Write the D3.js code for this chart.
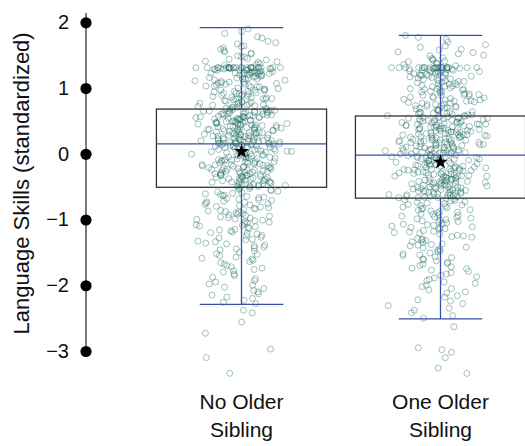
<!DOCTYPE html>
<html>
<head>
<meta charset="utf-8">
<script src="https://cdn.jsdelivr.net/npm/d3@7"></script>
<style>
  body { margin: 0; background: #fff; }
  text { font-family: "Liberation Sans", Arial, sans-serif; fill: #111; }
</style>
</head>
<body>
<div id="chart"></div>
<script>
// categories and their labels (two lines each)
const groups = ["none", "one"];
const groupLabels = [["No Older", "Sibling"], ["One Older", "Sibling"]];
const yTicks = [2, 1, 0, -1, -2, -3];

// box statistics: [lower whisker, Q1, median, Q3, upper whisker]
const boxNone = [-2.29, -0.51, 0.15, 0.68, 1.92];
const boxOne = [-2.51, -0.675, -0.02, 0.575, 1.80];
const meanNone = 0.035;
const meanOne = -0.127;

// individual scores (estimated from the scatter)
const scoresNone = [1.90,1.83,1.76,1.71,1.67,1.64,1.61,1.57,1.55,1.52,1.49,1.47,1.45,1.43,1.41,1.39,1.37,1.35,
  1.31,1.31,1.31,1.31,1.31,1.31,1.31,1.31,1.31,1.31,1.30,1.30,1.29,1.28,1.28,1.27,1.26,1.25,1.24,1.23,1.23,1.22,1.21,1.20,1.20,
  1.18,1.17,1.15,1.14,1.12,1.11,1.09,1.08,1.06,1.05,1.03,1.02,1.00,0.98,0.97,0.95,0.94,0.92,0.91,0.89,0.87,0.86,0.84,0.83,0.81,0.79,0.78,0.76,0.74,0.73,0.71,0.69,
  0.67,0.66,0.65,0.65,0.64,0.63,0.62,0.61,0.60,0.60,0.59,0.58,0.57,0.56,0.55,0.55,0.54,0.53,0.52,0.51,0.50,0.49,0.49,0.48,0.47,
  0.46,0.45,0.44,0.43,0.43,0.42,0.41,0.40,0.39,0.38,0.38,0.37,0.36,0.35,0.34,0.33,0.33,0.32,0.31,0.30,0.29,0.28,0.28,0.27,0.26,
  0.25,0.24,0.23,0.23,0.22,0.21,0.20,0.20,0.19,0.18,0.18,0.17,0.17,0.16,0.16,0.15,0.15,0.15,0.14,0.14,0.13,0.12,0.12,0.11,0.10,
  0.09,0.08,0.07,0.06,0.05,0.04,0.03,0.02,0.01,0.00,-0.01,-0.02,-0.03,-0.04,-0.05,-0.06,-0.07,-0.08,-0.09,-0.10,-0.11,-0.12,-0.13,-0.14,-0.15,
  -0.16,-0.17,-0.18,-0.19,-0.20,-0.21,-0.22,-0.23,-0.24,-0.25,-0.26,-0.27,-0.28,-0.29,-0.30,-0.31,-0.32,-0.33,-0.34,-0.35,-0.36,-0.37,-0.38,-0.39,-0.40,
  -0.41,-0.42,-0.43,-0.44,-0.45,-0.46,-0.47,-0.48,-0.49,-0.50,
  -0.52,-0.54,-0.55,-0.57,-0.58,-0.60,-0.61,-0.63,-0.64,-0.66,-0.67,-0.69,-0.70,-0.72,-0.73,-0.75,-0.77,-0.78,-0.80,-0.82,-0.84,-0.85,-0.87,-0.89,-0.91,-0.93,-0.95,-0.97,-0.99,
  -1.01,-1.03,-1.05,-1.08,-1.10,-1.12,-1.15,-1.17,-1.20,-1.22,-1.25,-1.28,-1.31,-1.34,-1.37,-1.40,-1.43,-1.46,-1.50,-1.53,-1.57,-1.60,-1.64,-1.68,-1.72,-1.76,-1.80,-1.85,-1.90,-1.95,
  -2.00,-2.05,-2.10,-2.15,-2.20,-2.26,-2.38,-2.42,-2.56,-2.73,-2.97,-3.10,-3.34,
  1.86,1.78,1.69,1.63,1.59,1.53,1.48,1.44,1.40,1.36,
  1.31,1.31,1.31,1.31,1.31,1.31,1.31,1.31,1.31,1.31,1.31,1.31,1.31,1.31,1.30,1.30,1.29,1.29,1.28,1.27,1.27,1.26,1.25,1.24,1.24,1.23,1.22,1.21,1.21,1.20,
  1.19,1.18,1.16,1.15,1.14,1.13,1.12,1.10,1.09,1.08,1.07,1.06,1.04,1.03,1.02,1.01,0.99,0.98,0.97,0.96,0.95,0.93,0.92,0.91,0.90,0.89,0.88,0.86,0.85,0.84,0.83,0.82,0.80,0.79,0.78,0.77,0.76,0.75,0.74,0.73,0.72,0.71,0.70,0.69,0.68,
  0.67,0.66,0.66,0.65,0.64,0.63,0.63,0.62,0.61,0.60,0.59,0.59,0.58,0.57,0.56,0.56,0.55,0.54,0.53,0.52,0.52,0.51,0.50,0.49,0.48,0.48,0.47,0.46,0.45,0.44,0.44,0.43,0.42,0.41,0.40,0.40,0.39,0.38,0.37,0.36,0.36,0.35,0.34,0.33,0.32,0.32,0.31,0.30,0.29,0.28,0.28,0.27,0.26,0.25,0.24,0.24,0.23,0.22,0.21,0.20,0.20,0.19,0.18,0.17,0.16,0.16,
  0.145,0.135,0.125,0.115,0.105,0.095,0.085,0.075,0.065,0.055,0.045,0.035,0.025,0.015,0.005,-0.005,-0.015,-0.025,-0.035,-0.045,-0.055,-0.065,-0.075,-0.085,-0.095,-0.105,-0.115,-0.125,-0.135,-0.145,-0.155,-0.165,-0.175,-0.185,-0.195,-0.205,-0.215,-0.225,-0.235,-0.245,-0.255,-0.265,-0.275,-0.285,-0.295,-0.305,-0.315,-0.325,-0.335,-0.345,-0.355,-0.365,-0.375,-0.385,-0.395,-0.405,-0.415,-0.425,-0.435,-0.445,-0.455,-0.465,-0.475,-0.485,-0.495,-0.505,
  -0.53,-0.56,-0.59,-0.62,-0.65,-0.68,-0.71,-0.74,-0.76,-0.79,-0.81,-0.83,-0.86,-0.88,-0.90,-0.92,-0.94,-0.96,-0.98,-1.00,-1.02,-1.04,-1.06,-1.09,-1.11,-1.14,-1.16,-1.19,-1.21,-1.24,-1.27,-1.30,-1.33,-1.36,-1.39,-1.42,-1.45,-1.48,-1.52,-1.55,-1.59,-1.62,-1.66,-1.70,-1.74,-1.78,-1.83,-1.88,-1.93,-1.98,-2.03,-2.08,-2.13,-2.18,-2.23,-2.28];

const scoresOne = [1.80,1.74,1.66,1.62,1.58,1.55,1.52,1.49,1.46,1.44,1.42,1.40,1.38,1.36,1.34,
  1.31,1.31,1.31,1.31,1.31,1.31,1.31,1.31,1.31,1.30,1.29,1.28,1.27,1.26,1.25,1.24,1.23,1.22,1.21,1.20,1.19,1.18,
  1.16,1.14,1.12,1.10,1.09,1.07,1.05,1.03,1.01,0.99,0.98,0.96,0.94,0.92,0.90,0.89,0.87,0.85,0.83,0.82,0.80,0.78,0.77,0.75,0.73,0.72,0.70,0.69,0.67,0.66,0.64,0.63,0.62,0.61,0.60,0.59,0.58,0.58,
  0.57,0.56,0.55,0.54,0.54,0.53,0.52,0.51,0.50,0.49,0.49,0.48,0.47,0.46,0.45,0.45,0.44,0.43,0.42,0.41,0.41,0.40,0.39,0.38,0.37,
  0.37,0.36,0.35,0.34,0.33,0.33,0.32,0.31,0.30,0.29,0.29,0.28,0.27,0.26,0.25,0.25,0.24,0.23,0.22,0.21,0.21,0.20,0.19,0.18,0.17,
  0.17,0.16,0.15,0.14,0.13,0.13,0.12,0.11,0.10,0.09,0.09,0.08,0.07,0.06,0.05,0.05,0.04,0.03,0.02,0.01,0.01,0.00,-0.01,-0.02,-0.02,
  -0.03,-0.04,-0.05,-0.06,-0.07,-0.08,-0.08,-0.09,-0.10,-0.11,-0.12,-0.13,-0.14,-0.15,-0.16,-0.17,-0.17,-0.18,-0.19,-0.20,-0.21,-0.22,-0.23,-0.24,-0.25,
  -0.25,-0.26,-0.27,-0.28,-0.29,-0.30,-0.31,-0.32,-0.33,-0.34,-0.34,-0.35,-0.36,-0.37,-0.38,-0.39,-0.40,-0.41,-0.42,-0.42,-0.43,-0.44,-0.45,-0.46,-0.47,
  -0.48,-0.49,-0.50,-0.51,-0.51,-0.52,-0.53,-0.54,-0.55,-0.56,-0.57,-0.58,-0.59,-0.59,-0.60,-0.61,-0.62,-0.63,-0.64,-0.65,-0.66,-0.67,-0.67,-0.68,-0.69,
  -0.71,-0.72,-0.74,-0.76,-0.77,-0.79,-0.81,-0.82,-0.84,-0.86,-0.88,-0.90,-0.91,-0.93,-0.95,-0.97,-0.99,-1.01,-1.03,-1.05,-1.07,-1.09,-1.11,-1.13,-1.15,
  -1.18,-1.20,-1.22,-1.25,-1.27,-1.30,-1.32,-1.35,-1.38,-1.40,-1.43,-1.46,-1.49,-1.52,-1.55,-1.58,-1.61,-1.65,-1.68,-1.72,-1.75,-1.79,-1.83,-1.87,-1.91,
  -1.95,-2.00,-2.05,-2.10,-2.16,-2.22,-2.28,-2.35,-2.42,-2.50,-2.63,-2.95,-2.98,-3.02,-3.10,-3.26,-3.34,
  1.77,1.70,1.64,1.59,1.54,1.50,1.45,1.41,1.37,
  1.31,1.31,1.31,1.31,1.31,1.31,1.31,1.31,1.31,1.31,1.31,1.31,1.30,1.30,1.29,1.28,1.27,1.27,1.26,1.25,1.24,1.23,1.22,1.21,1.20,1.19,
  1.17,1.16,1.15,1.13,1.12,1.11,1.10,1.08,1.07,1.06,1.04,1.03,1.02,1.00,0.99,0.98,0.97,0.95,0.94,0.93,0.91,0.90,0.89,0.88,0.86,0.85,0.84,0.82,0.81,0.80,0.79,0.77,0.76,0.75,0.73,0.72,0.71,0.70,0.68,0.67,0.66,0.64,0.63,0.61,0.59,
  0.565,0.555,0.545,0.535,0.525,0.515,0.505,0.495,0.485,0.475,0.465,0.455,0.445,0.435,0.425,0.415,0.405,0.395,0.385,0.375,0.365,0.355,0.345,0.335,0.325,0.315,0.305,0.295,0.285,0.275,0.265,0.255,0.245,0.235,0.225,0.215,0.205,0.195,0.185,0.175,0.165,0.155,0.145,0.135,0.125,0.115,0.105,0.095,0.085,0.075,0.065,0.055,0.045,0.035,0.025,0.015,0.005,-0.005,-0.015,
  -0.025,-0.035,-0.045,-0.055,-0.065,-0.075,-0.085,-0.095,-0.105,-0.115,-0.125,-0.135,-0.145,-0.155,-0.165,-0.175,-0.185,-0.195,-0.205,-0.215,-0.225,-0.235,-0.245,-0.255,-0.265,-0.275,-0.285,-0.295,-0.305,-0.315,-0.325,-0.335,-0.345,-0.355,-0.365,-0.375,-0.385,-0.395,-0.405,-0.415,-0.425,-0.435,-0.445,-0.455,-0.465,-0.475,-0.485,-0.495,-0.505,-0.515,-0.525,-0.535,-0.545,-0.555,-0.565,-0.575,-0.585,-0.595,-0.605,-0.615,-0.625,-0.635,-0.645,-0.655,-0.665,
  -0.70,-0.73,-0.75,-0.78,-0.80,-0.83,-0.85,-0.87,-0.89,-0.92,-0.94,-0.96,-0.98,-1.00,-1.02,-1.04,-1.06,-1.08,-1.10,-1.12,-1.14,-1.17,-1.19,-1.21,-1.24,-1.26,-1.29,-1.31,-1.34,-1.37,-1.39,-1.42,-1.45,-1.48,-1.51,-1.54,-1.57,-1.60,-1.63,-1.67,-1.70,-1.74,-1.77,-1.81,-1.85,-1.89,-1.93,-1.97,-2.02,-2.07,-2.12,-2.18,-2.24,-2.31,-2.38,-2.46];

const width = 525, height = 446;

const svg = d3.select("#chart").append("svg")
    .attr("width", width)
    .attr("height", height);

const x = d3.scaleBand().domain(groups).range([142, 540]);
const y = d3.scaleLinear().domain([-3, 2]).range([351, 22.3]);

const boxW = x.bandwidth() * 0.855;
const capW = x.bandwidth() * 0.42;
const blue = "#3b4fa6";

// horizontal jitter for display only: a fixed hash of the index, not data
const hash = n => {
    let s = Math.sin(n * 12.9898) * 43758.5453;
    return s - Math.floor(s);
};
const jitter = i => (hash(i + 1) + hash(i + 7001) + hash(i + 15013) - 1.5) * 40;

const sets = [
    { key: "none", scores: scoresNone, box: boxNone, mean: meanNone },
    { key: "one", scores: scoresOne, box: boxOne, mean: meanOne }
];

// points
sets.forEach((s, k) => {
    const cx = x(s.key) + x.bandwidth() / 2;
    svg.append("g").selectAll("circle").data(s.scores)
        .enter().append("circle")
        .attr("cx", (d, i) => cx + jitter(i + k * 1000))
        .attr("cy", d => y(d))
        .attr("r", 3)
        .attr("fill", "none")
        .attr("stroke", "#196a61")
        .attr("stroke-opacity", 0.4)
        .attr("stroke-width", 1);
});

// boxes
sets.forEach(s => {
    const cx = x(s.key) + x.bandwidth() / 2;
    const b = s.box;
    const g = svg.append("g");
    g.append("line").attr("x1", cx).attr("x2", cx).attr("y1", y(b[3])).attr("y2", y(b[4]))
        .attr("stroke", blue).attr("stroke-width", 1.3);
    g.append("line").attr("x1", cx).attr("x2", cx).attr("y1", y(b[1])).attr("y2", y(b[0]))
        .attr("stroke", blue).attr("stroke-width", 1.3);
    [b[0], b[4]].forEach(v => {
        g.append("line").attr("x1", cx - capW / 2).attr("x2", cx + capW / 2)
            .attr("y1", y(v)).attr("y2", y(v))
            .attr("stroke", blue).attr("stroke-width", 1.3);
    });
    g.append("rect")
        .attr("x", cx - boxW / 2).attr("width", boxW)
        .attr("y", y(b[3])).attr("height", y(b[1]) - y(b[3]))
        .attr("fill", "none").attr("stroke", "#333").attr("stroke-width", 1.3);
    g.append("line").attr("x1", cx - boxW / 2).attr("x2", cx + boxW / 2)
        .attr("y1", y(b[2])).attr("y2", y(b[2]))
        .attr("stroke", blue).attr("stroke-width", 1.3);
    g.append("path")
        .attr("d", d3.symbol(d3.symbolStar, 70)())
        .attr("transform", "translate(" + cx + "," + y(s.mean) + ")")
        .attr("fill", "#000");
});

// y axis with dot ticks
const axisX = 86;
svg.append("line")
    .attr("x1", axisX).attr("x2", axisX)
    .attr("y1", y(2.14)).attr("y2", y(-3))
    .attr("stroke", "#333").attr("stroke-width", 1.3);

const yAxis = svg.append("g").attr("transform", "translate(" + axisX + ",0)")
    .call(d3.axisLeft(y).tickValues(yTicks).tickFormat(d3.format("d")).tickSize(0).tickPadding(17));
yAxis.select(".domain").remove();
yAxis.selectAll(".tick text").style("font-size", "20px").attr("fill", "#111")
    .style("font-family", "'Liberation Sans', Arial, sans-serif");
yAxis.selectAll(".tick").append("circle").attr("r", 5.6).attr("fill", "#000");

svg.append("text")
    .attr("transform", "translate(28.5," + y(-0.45) + ") rotate(-90)")
    .attr("text-anchor", "middle")
    .style("font-size", "22px")
    .text("Language Skills (standardized)");

// x labels
groupLabels.forEach((lines, k) => {
    const cx = x(groups[k]) + x.bandwidth() / 2;
    const t = svg.append("text").attr("text-anchor", "middle").style("font-size", "21px");
    lines.forEach((ln, j) => {
        t.append("tspan").attr("x", cx).attr("y", 409 + j * 27.5).text(ln);
    });
});
</script>
</body>
</html>
